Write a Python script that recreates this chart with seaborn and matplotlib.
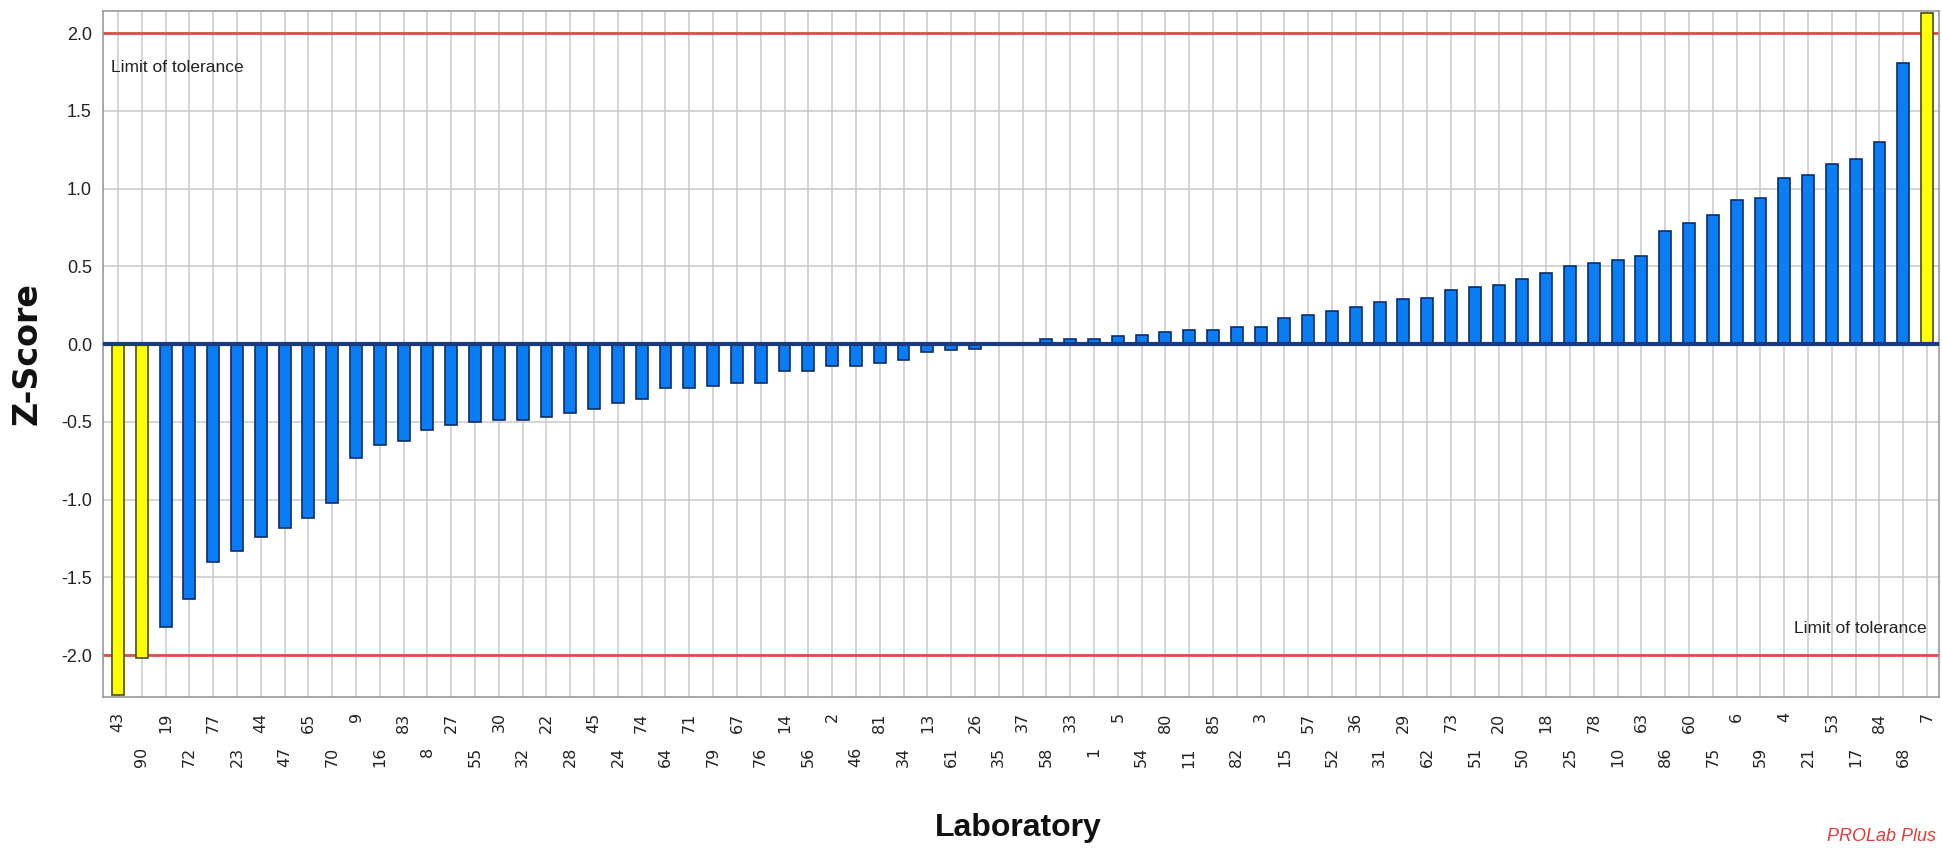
import matplotlib
matplotlib.use("Agg")
import matplotlib.pyplot as plt
from matplotlib import font_manager as fm
import numpy as np
import pandas as pd
import seaborn as sns

# Laboratories in ranked order and their z-scores
labs = [43, 90, 19, 72, 77, 23, 44, 47, 65, 70, 9, 16, 83, 8, 27, 55, 30, 32, 22, 28,
        45, 24, 74, 64, 71, 79, 67, 76, 14, 56, 2, 46, 81, 34, 13, 61, 26, 35, 37, 58,
        33, 1, 5, 54, 80, 11, 85, 82, 3, 15, 57, 52, 36, 31, 29, 62, 73, 51, 20, 50,
        18, 25, 78, 10, 63, 86, 60, 75, 6, 59, 4, 21, 53, 17, 84, 68, 7]
zscores = [-2.26, -2.02, -1.82, -1.64, -1.40, -1.33, -1.24, -1.18, -1.12, -1.02,
           -0.73, -0.65, -0.62, -0.55, -0.52, -0.50, -0.49, -0.49, -0.47, -0.44,
           -0.42, -0.38, -0.35, -0.28, -0.28, -0.27, -0.25, -0.25, -0.17, -0.17,
           -0.14, -0.14, -0.12, -0.10, -0.05, -0.04, -0.03, 0.00, 0.00, 0.03,
           0.03, 0.03, 0.05, 0.06, 0.08, 0.09, 0.09, 0.11, 0.11, 0.17,
           0.19, 0.21, 0.24, 0.27, 0.29, 0.30, 0.35, 0.37, 0.38, 0.42,
           0.46, 0.50, 0.52, 0.54, 0.57, 0.73, 0.78, 0.83, 0.93, 0.94,
           1.07, 1.09, 1.16, 1.19, 1.30, 1.81, 2.13]
tolerance = 2.0
yticks = [-2.0, -1.5, -1.0, -0.5, 0.0, 0.5, 1.0, 1.5, 2.0]

sns.set_style("white")

installed = {f.name for f in fm.fontManager.ttflist}
def pick(*fams):
    for f in fams:
        if f in installed:
            return f
    return "DejaVu Sans"

narrow = pick("Liberation Sans Narrow", "Liberation Sans")
regular = pick("Liberation Sans", "DejaVu Sans")
plt.rcParams["font.family"] = [regular, "DejaVu Sans"]
small_txt = 14.5 if narrow == "Liberation Sans Narrow" else 12.5

df = pd.DataFrame({
    "lab": [str(l) for l in labs],
    "z": zscores,
})
df["status"] = np.where(np.abs(df["z"]) >= tolerance, "out", "ok")

fig = plt.figure(figsize=(19.42, 8.55), dpi=100)
W, H = 1942, 855
ax = fig.add_axes([103 / W, 1 - 697 / H, (1939 - 103) / W, (697 - 10.7) / H])

sns.barplot(data=df, x="lab", y="z", hue="status", order=df["lab"],
            palette={"ok": "#0a7cf4", "out": "#ffff00"}, dodge=False,
            saturation=1, width=0.5, legend=False, ax=ax, zorder=3)
for p in ax.patches:
    fc = p.get_facecolor()
    p.set_edgecolor("#0b2e6b" if fc[2] > 0.5 else "#4a4a10")
    p.set_linewidth(1.2)

n = len(labs)
ax.set_xlim(-0.63, n - 0.5)
ax.set_ylim(-2.27, 2.145)

# grid: one vertical line per laboratory, horizontal every 0.5
ax.set_axisbelow(True)
ax.grid(True, which="major", axis="both", color="#c9c9c9", lw=1.1)

# tolerance limits and zero line
ax.axhline(tolerance, color="#d8504a", lw=2.0, zorder=2)
ax.axhline(-tolerance, color="#d8504a", lw=2.0, zorder=2)
ax.axhline(0, color="#1a3a80", lw=3.0, zorder=5)

ax.set_yticks(yticks)
ax.set_yticklabels([f"{v:.1f}" for v in yticks], fontsize=13, color="#222222",
                   family=[regular, "DejaVu Sans"])
ax.tick_params(axis="y", direction="out", length=5, width=1, color="#808080", pad=3)

ax.set_xticks(range(n))
ax.set_xticklabels(df["lab"], rotation=90, fontsize=11.5, color="#222222",
                   family=["DejaVu Sans"], va="top", ha="center")
ax.tick_params(axis="x", direction="out", length=7, width=1, color="#808080")
for i, t in enumerate(ax.xaxis.get_major_ticks()):
    t.set_pad(4 if i % 2 == 0 else 29)

for s in ax.spines.values():
    s.set_color("#9a9a9a")
    s.set_linewidth(1.2)

ax.set_xlabel("")
ax.set_ylabel("")

# tolerance annotations
ax.text(0.0045, 1.75, "Limit of tolerance", transform=ax.get_yaxis_transform(),
        ha="left", va="baseline", fontsize=small_txt, family=[narrow, "DejaVu Sans"],
        color="#222222", zorder=6)
ax.text(0.9935, -1.86, "Limit of tolerance", transform=ax.get_yaxis_transform(),
        ha="right", va="baseline", fontsize=small_txt, family=[narrow, "DejaVu Sans"],
        color="#222222", zorder=6)

fig.text(1018 / W, 1 - 828 / H, "Laboratory", ha="center", va="center",
         fontsize=23, fontweight="bold", family=[narrow, "DejaVu Sans"], color="#111111")
fig.text(27 / W, 1 - 353 / H, "Z-Score", ha="center", va="center", rotation=90,
         fontsize=24, fontweight="bold", family=["DejaVu Sans"], color="#111111")
fig.text(1936 / W, 1 - 836 / H, "PROLab Plus", ha="right", va="center",
         fontsize=13, style="italic", family=[narrow, "DejaVu Sans"], color="#e03a3a")

fig.savefig("out.png", dpi=100, facecolor="white")
